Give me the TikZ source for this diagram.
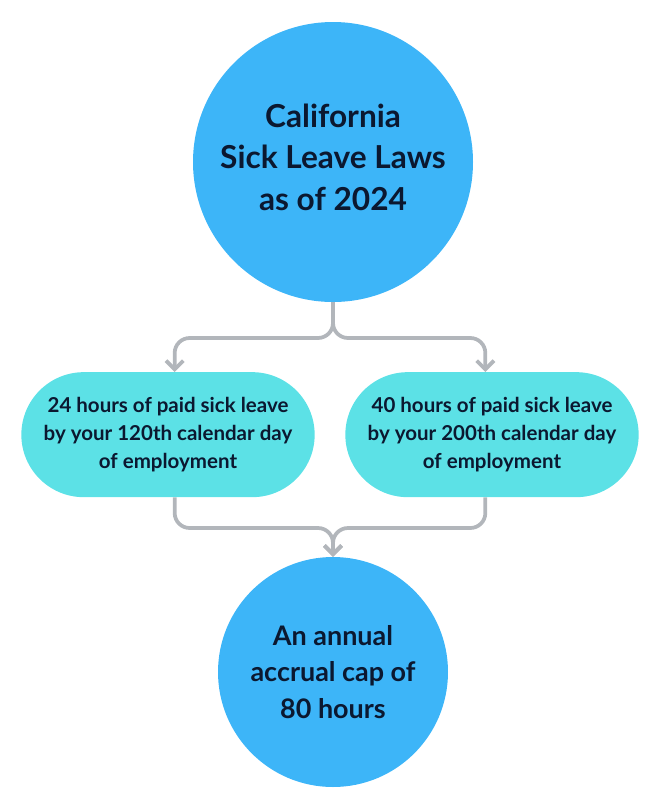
\documentclass[tikz,border=0pt]{standalone}
\usepackage{fontspec}
\setmainfont{Lato}
\usetikzlibrary{arrows.meta,shapes.misc,positioning}

\definecolor{lawblue}{HTML}{3DB5F8}
\definecolor{pillcyan}{HTML}{5CE1E6}
\definecolor{linkgray}{HTML}{B2B6BB}
\definecolor{inkblue}{HTML}{0B1830}

\begin{document}
\begin{tikzpicture}[auto,font=\bfseries,text=inkblue,
    line/.style={draw=linkgray, -{Straight Barb[length=2.6mm,width=5.2mm,line width=3.2pt]}, rounded corners=4.5mm, line width=3.2pt},
    bubble/.style={circle, fill=lawblue, align=center, inner sep=0pt},
    pill/.style={rounded rectangle, fill=pillcyan, align=center, minimum width=8.8cm, minimum height=3.75cm, inner sep=0pt,
      font=\fontsize{17.5}{24}\selectfont\bfseries},
    ]
    \useasboundingbox (0,0) rectangle (19.89,-24.12);

    % Place nodes
    \node [bubble, minimum size=8.4cm] (law) at (9.99,-4.86) {}; % title
    \node [font=\fontsize{27}{35.5}\selectfont\bfseries, align=center] (title) at (9.99,-4.71)
      {California\\Sick Leave Laws\\as of 2024};
    \node [pill] (first) at (5.04,-13.04) {24 hours of paid sick leave\\by your 120th calendar day\\of employment};
    \node [pill] (second) at (14.76,-13.04) {40 hours of paid sick leave\\by your 200th calendar day\\of employment};
    \node [bubble, minimum size=6.9cm, font=\fontsize{23}{31.5}\selectfont\bfseries] (cap) at (9.99,-20.16)
      {An annual\\accrual cap of\\80 hours};

    % Draw edges
    \coordinate (split) at (9.99,-10.14);
    \coordinate (merge) at (9.99,-15.84);
    \draw [line] (law.south) -- (split) -| ([xshift=2mm]first.north);
    \draw [line] (law.south) -- (split) -| ([xshift=-2mm]second.north);
    \draw [line] ([xshift=2mm]first.south) |- (merge) -- (cap.north);
    \draw [line] ([xshift=-2mm]second.south) |- (merge) -- (cap.north);
\end{tikzpicture}
\end{document}
